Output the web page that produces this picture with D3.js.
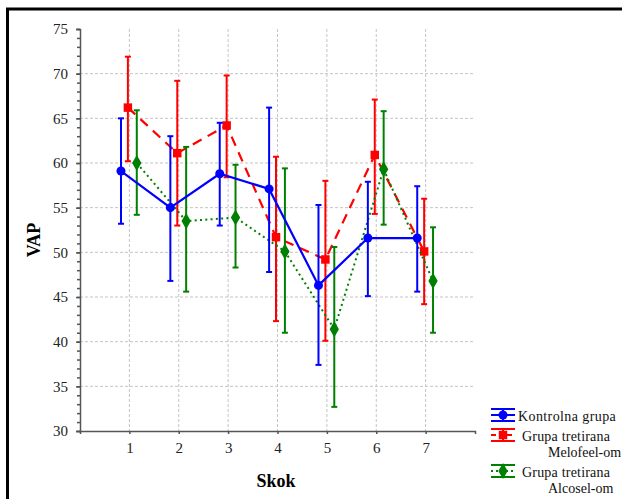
<!DOCTYPE html>
<html><head><meta charset="utf-8">
<script src="https://cdn.jsdelivr.net/npm/d3@7"></script>
<style>body{margin:0;background:#fff}svg{display:block}</style>
</head><body>
<script>
const categories = [1,2,3,4,5,6,7];
const seriesNames = ["Kontrolna grupa", "Grupa tretirana Melofeel-om", "Grupa tretirana Alcosel-om"];
const kontrolnaMean = [59.1, 55.0, 58.8, 57.1, 46.3, 51.6, 51.6];
const kontrolnaUpper = [65.0, 63.0, 64.5, 66.2, 55.3, 57.9, 57.4];
const kontrolnaLower = [53.2, 46.8, 53.0, 47.8, 37.4, 45.1, 45.6];
const melofeelMean = [66.2, 61.1, 64.2, 51.7, 49.2, 60.9, 50.1];
const melofeelUpper = [71.9, 69.2, 69.8, 60.7, 58.0, 67.1, 56.0];
const melofeelLower = [60.2, 53.0, 58.4, 42.3, 40.1, 54.3, 44.2];
const alcoselMean = [60.0, 53.5, 53.9, 50.1, 41.4, 59.3, 46.8];
const alcoselUpper = [65.9, 61.8, 59.8, 59.4, 50.6, 65.8, 52.8];
const alcoselLower = [54.2, 45.6, 48.3, 41.0, 32.7, 53.1, 41.0];
const yTicks = [30,35,40,45,50,55,60,65,70,75];

const W = 622, H = 499;
const svg = d3.select("body").append("svg").attr("width", W).attr("height", H);
const font = "'Liberation Serif','Times New Roman',serif";

// outer frame (partially visible)
svg.append("rect").attr("x", 7.5).attr("y", 9).attr("width", 700).attr("height", 600)
  .attr("fill", "none").attr("stroke", "#000").attr("stroke-width", 3);

const x = d3.scaleLinear().domain([0, 8]).range([80, 475]);
const y = d3.scaleLinear().domain([30, 75]).range([431, 29]);

// grid
const g = svg.append("g");
g.selectAll(".vg").data(categories).join("line")
  .attr("x1", d => x(d)).attr("x2", d => x(d)).attr("y1", y(75)).attr("y2", y(30))
  .attr("stroke", "#c4c4c4").attr("stroke-width", 1).attr("stroke-dasharray", "3,2");
g.selectAll(".hg").data(yTicks.filter(d => d > 30 && d < 75)).join("line")
  .attr("x1", x(0)).attr("x2", x(8)).attr("y1", d => y(d)).attr("y2", d => y(d))
  .attr("stroke", "#c4c4c4").attr("stroke-width", 1).attr("stroke-dasharray", "3,2");

// axes
const yAxis = svg.append("g").attr("transform", `translate(${x(0)},0)`)
  .call(d3.axisLeft(y).tickValues(yTicks).tickSize(4).tickPadding(8));
const yMinor = svg.append("g").attr("transform", `translate(${x(0)},0)`)
  .call(d3.axisLeft(y).tickValues(d3.range(30, 76, 1)).tickSize(3).tickFormat(""));
yMinor.select(".domain").remove();
const xAxis = svg.append("g").attr("transform", `translate(0,${y(30)})`)
  .call(d3.axisBottom(x).tickValues(categories).tickSize(3).tickPadding(8).tickSizeOuter(3));
[yAxis, yMinor, xAxis].forEach(a => {
  a.selectAll("path,line").attr("stroke", "#555").attr("stroke-width", 1.5);
  a.selectAll("text").attr("font-family", font).attr("font-size", 15).attr("fill", "#222");
});

// axis titles
svg.append("text").attr("x", 276).attr("y", 487).attr("text-anchor", "middle")
  .attr("font-family", font).attr("font-weight", "bold").attr("font-size", 18).text("Skok");
svg.append("text").attr("transform", "translate(40,240) rotate(-90)").attr("text-anchor", "middle")
  .attr("font-family", font).attr("font-weight", "bold").attr("font-size", 18).text("VAP");

const series = [
  {name: seriesNames[1], mean: melofeelMean, up: melofeelUpper, lo: melofeelLower, color: "#ff0000", off: -0.03, dash: "10,7", marker: "square"},
  {name: seriesNames[2], mean: alcoselMean, up: alcoselUpper, lo: alcoselLower, color: "#008000", off: 0.15, dash: "2,3.3", marker: "diamond"},
  {name: seriesNames[0], mean: kontrolnaMean, up: kontrolnaUpper, lo: kontrolnaLower, color: "#0000ff", off: -0.17, dash: null, marker: "circle"}
];

const symbolOf = m => m === "square" ? d3.symbol().type(d3.symbolSquare).size(72)
  : m === "diamond" ? d3.symbol().type(d3.symbolDiamond).size(75)
  : d3.symbol().type(d3.symbolCircle).size(64);

series.forEach(s => {
  const pts = categories.map((c, i) => ({x: c + s.off, m: s.mean[i], u: s.up[i], l: s.lo[i]}));
  const sg = svg.append("g");
  sg.append("path").datum(pts)
    .attr("d", d3.line().x(d => x(d.x)).y(d => y(d.m)))
    .attr("fill", "none").attr("stroke", s.color).attr("stroke-width", s.marker === "diamond" ? 2 : 2.2)
    .attr("stroke-dasharray", s.dash);
  sg.selectAll(".eb").data(pts).join("line")
    .attr("x1", d => x(d.x)).attr("x2", d => x(d.x)).attr("y1", d => y(d.u)).attr("y2", d => y(d.l))
    .attr("stroke", s.color).attr("stroke-width", 2);
  ["u", "l"].forEach(k => {
    sg.selectAll(".cap" + k).data(pts).join("line")
      .attr("x1", d => x(d.x) - 3).attr("x2", d => x(d.x) + 3).attr("y1", d => y(d[k])).attr("y2", d => y(d[k]))
      .attr("stroke", s.color).attr("stroke-width", 2);
  });
  sg.selectAll(".mk").data(pts).join("path")
    .attr("transform", d => `translate(${x(d.x)},${y(d.m)})`)
    .attr("d", symbolOf(s.marker)()).attr("fill", s.color);
});

// legend
const legendItems = [
  {s: series[2], y: 415, lines: ["Kontrolna grupa"], tx: [518], ty: [421], ls: [0.4]},
  {s: series[0], y: 435, lines: ["Grupa tretirana", "Melofeel-om"], tx: [522, 548], ty: [441, 457], ls: [0.2, 0]},
  {s: series[1], y: 471, lines: ["Grupa tretirana", "Alcosel-om"], tx: [522, 548], ty: [477, 493], ls: [0.2, 0]}
];
const leg = svg.append("g");
legendItems.forEach(it => {
  const s = it.s, x0 = 491, x1 = 515, cx = 503;
  leg.append("line").attr("x1", x0).attr("x2", x1).attr("y1", it.y - 6).attr("y2", it.y - 6).attr("stroke", s.color).attr("stroke-width", 2);
  leg.append("line").attr("x1", x0).attr("x2", x1).attr("y1", it.y + 6).attr("y2", it.y + 6).attr("stroke", s.color).attr("stroke-width", 2);
  leg.append("line").attr("x1", cx).attr("x2", cx).attr("y1", it.y - 6).attr("y2", it.y + 6).attr("stroke", s.color).attr("stroke-width", 2);
  leg.append("line").attr("x1", x0).attr("x2", x1).attr("y1", it.y).attr("y2", it.y).attr("stroke", s.color).attr("stroke-width", 2)
    .attr("stroke-dasharray", s.marker === "square" ? "5,3" : s.marker === "diamond" ? "2,3" : null);
  leg.append("path").attr("transform", `translate(${cx},${it.y})`).attr("d", symbolOf(s.marker)()).attr("fill", s.color);
  it.lines.forEach((t, i) => {
    leg.append("text").attr("x", it.tx[i]).attr("y", it.ty[i]).attr("font-family", font).attr("font-size", 14)
      .attr("letter-spacing", it.ls[i]).attr("fill", "#111").text(t);
  });
});
</script>
</body></html>
